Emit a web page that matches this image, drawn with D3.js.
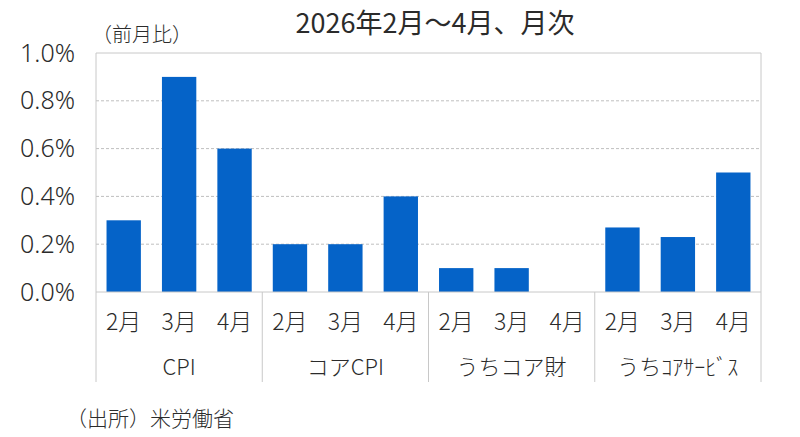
<!DOCTYPE html>
<html>
<head>
<meta charset="utf-8">
<script src="https://cdn.jsdelivr.net/npm/d3@7"></script>
<style>
  body { margin: 0; background: #fff; }
  text { font-family: "Noto Sans CJK JP", "Noto Sans", sans-serif; fill: #2b2b2b; }
</style>
</head>
<body>
<div id="chart"></div>
<script>
const groups = ["CPI", "コアCPI", "うちコア財", "うちｺｱｻｰﾋﾞｽ"];
const months = ["2月", "3月", "4月"];
const cpiValues = [0.3, 0.9, 0.6];
const coreCpiValues = [0.2, 0.2, 0.4];
const coreGoodsValues = [0.1, 0.1, 0.0];
const coreServicesValues = [0.27, 0.23, 0.5];
const yTicks = [0, 0.2, 0.4, 0.6, 0.8, 1.0];

const seriesByGroup = [cpiValues, coreCpiValues, coreGoodsValues, coreServicesValues];

const rows = [];
groups.forEach((g, gi) => {
  months.forEach((m, mi) => {
    rows.push({ key: g + "|" + m, group: g, month: m, value: seriesByGroup[gi][mi] });
  });
});

const width = 800;
const height = 437;
const margin = { top: 53, right: 39, bottom: 145, left: 96 };
const plotW = width - margin.left - margin.right;
const plotH = height - margin.top - margin.bottom;

const svg = d3.select("#chart")
  .append("svg")
  .attr("width", width)
  .attr("height", height);

const g = svg.append("g")
  .attr("transform", `translate(${margin.left},${margin.top})`);

const x = d3.scaleBand()
  .domain(rows.map(d => d.key))
  .range([0, plotW])
  .paddingInner(0.38)
  .paddingOuter(0.19);

const xGroup = d3.scaleBand()
  .domain(groups)
  .range([0, plotW]);

const y = d3.scaleLinear()
  .domain([0, 1.0])
  .range([plotH, 0]);

// gridlines
g.selectAll(".grid")
  .data(yTicks.filter(t => t > 0 && t < 1))
  .enter()
  .append("line")
  .attr("x1", 0)
  .attr("x2", plotW)
  .attr("y1", d => y(d))
  .attr("y2", d => y(d))
  .attr("stroke", "#bfbfbf")
  .attr("stroke-width", 1)
  .attr("stroke-dasharray", "3,2");

// bars
g.selectAll(".bar")
  .data(rows)
  .enter()
  .append("rect")
  .attr("x", d => x(d.key))
  .attr("y", d => y(d.value))
  .attr("width", x.bandwidth())
  .attr("height", d => plotH - y(d.value))
  .attr("fill", "#0563c8");

// plot frame (top, left, right)
g.append("path")
  .attr("d", `M0,${plotH}V0H${plotW}V${plotH}`)
  .attr("fill", "none")
  .attr("stroke", "#c8c8c8")
  .attr("stroke-width", 1);

// baseline
g.append("line")
  .attr("x1", 0)
  .attr("x2", plotW)
  .attr("y1", plotH)
  .attr("y2", plotH)
  .attr("stroke", "#c8c8c8");

// group separators below axis
const seps = groups.map(d => xGroup(d)).concat([plotW]);
g.selectAll(".sep")
  .data(seps)
  .enter()
  .append("line")
  .attr("x1", d => d)
  .attr("x2", d => d)
  .attr("y1", plotH)
  .attr("y2", plotH + 90)
  .attr("stroke", "#c8c8c8");

// y axis labels
const yAxis = g.append("g")
  .call(d3.axisLeft(y).tickValues(yTicks).tickFormat(d => d.toFixed(1) + "%").tickSize(0).tickPadding(21));
yAxis.select(".domain").remove();
yAxis.selectAll("text")
  .style("font-family", "'Noto Sans', sans-serif")
  .style("font-size", "25px")
  .style("font-weight", "300")
  .attr("fill", "#404040");

// month labels
g.selectAll(".month")
  .data(rows)
  .enter()
  .append("text")
  .attr("x", d => x(d.key) + x.bandwidth() / 2)
  .attr("y", plotH + 38)
  .attr("text-anchor", "middle")
  .style("font-size", "23px")
  .style("font-weight", "300")
  .text(d => d.month);

// group labels
g.selectAll(".grp")
  .data(groups)
  .enter()
  .append("text")
  .attr("x", d => xGroup(d) + xGroup.bandwidth() / 2)
  .attr("y", plotH + 83)
  .attr("text-anchor", "middle")
  .style("font-size", "22px")
  .style("font-weight", "300")
  .text(d => d);

// title
svg.append("text")
  .attr("x", 435)
  .attr("y", 33)
  .attr("text-anchor", "middle")
  .style("font-size", "27px")
  .style("font-weight", "400")
  .text("2026年2月～4月、月次");

// unit label
svg.append("text")
  .attr("x", 92)
  .attr("y", 42)
  .style("font-size", "20px")
  .style("font-weight", "300")
  .text("（前月比）");

// source
svg.append("text")
  .attr("x", 66)
  .attr("y", 426)
  .style("font-size", "21px")
  .style("font-weight", "300")
  .text("（出所）米労働省");
</script>
</body>
</html>
